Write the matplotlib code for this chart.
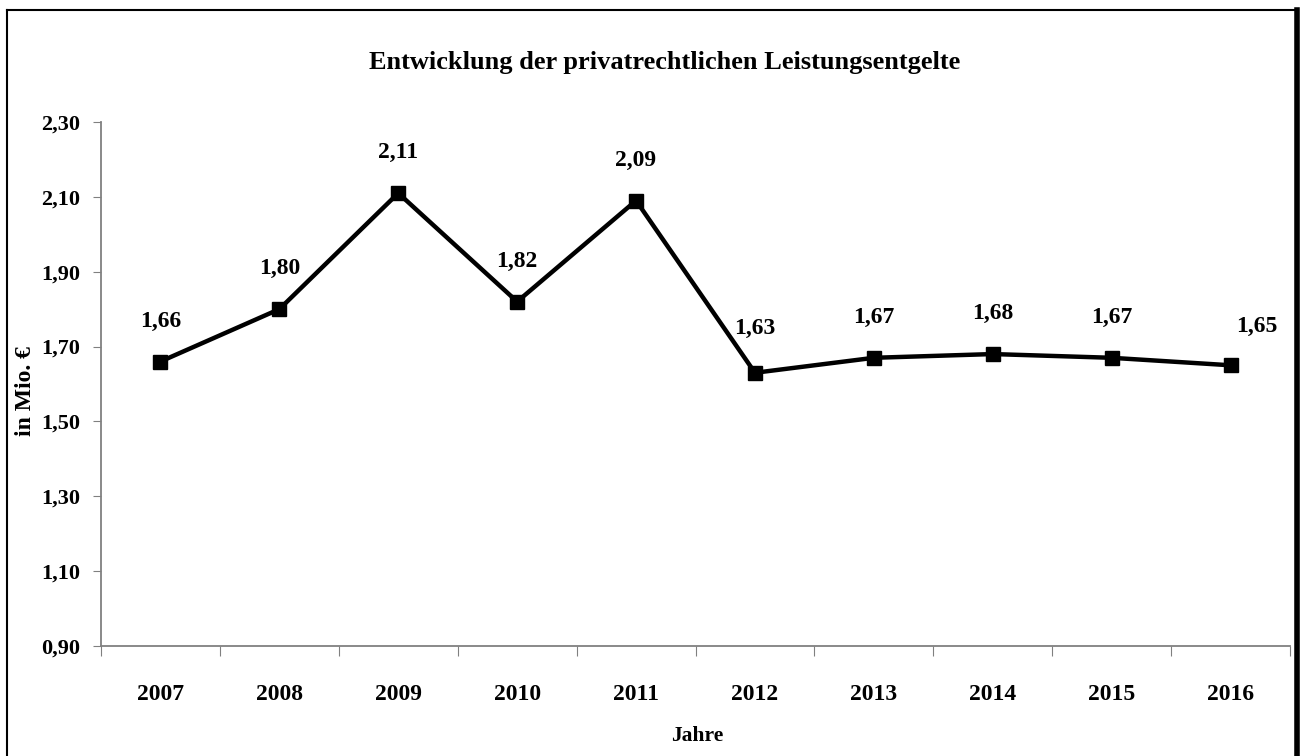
import matplotlib.pyplot as plt
from matplotlib.lines import Line2D

years = ['2007', '2008', '2009', '2010', '2011', '2012', '2013', '2014', '2015', '2016']
values = [1.66, 1.80, 2.11, 1.82, 2.09, 1.63, 1.67, 1.68, 1.67, 1.65]
yticks = [0.90, 1.10, 1.30, 1.50, 1.70, 1.90, 2.10, 2.30]

# label offsets in points (dx, dy)
offsets = [(0, 29)] * 10
offsets[5] = (0, 32)
offsets[9] = (19, 28)

plt.rcParams['font.family'] = ['Liberation Serif', 'DejaVu Serif']
plt.rcParams['font.weight'] = 'bold'

fig = plt.figure(figsize=(13.03, 7.56), dpi=100)
fig.set_facecolor('white')
ax = fig.add_axes([101 / 1303, 1 - 646 / 756, 1189 / 1303, 524 / 756])

x = [i + 0.5 for i in range(len(years))]
ax.plot(x, values, color='black', lw=3.2, marker='s', ms=10.5, solid_joinstyle='miter')

for xi, v, (dx, dy) in zip(x, values, offsets):
    ax.annotate('{:.2f}'.format(v).replace('.', ','), (xi, v), xytext=(dx, dy),
                textcoords='offset points', ha='center', va='center',
                fontsize=17, fontweight='bold')

ax.set_xlim(0, len(years))
ax.set_ylim(0.9, 2.3)
ax.set_yticks(yticks)
ax.set_yticklabels(['{:.2f}'.format(t).replace('.', ',') for t in yticks], fontsize=16, fontweight='bold')
ax.set_xticks(range(len(years) + 1))
ax.set_xticklabels([''] * (len(years) + 1))
ax.set_xticks(x, minor=True)
ax.set_xticklabels(years, minor=True, fontsize=17, fontweight='bold')
ax.tick_params(axis='x', which='minor', length=0, pad=27)
ax.tick_params(axis='x', which='major', length=7, color='#808080', direction='out')
ax.tick_params(axis='y', length=6, color='#808080', direction='out', pad=9)

for s in ['top', 'right']:
    ax.spines[s].set_visible(False)
for s in ['left', 'bottom']:
    ax.spines[s].set_color('#808080')
    ax.spines[s].set_linewidth(1.3)

fig.text(665 / 1303, 1 - 62 / 756, 'Entwicklung der privatrechtlichen Leistungsentgelte',
         ha='center', va='center', fontsize=19, fontweight='bold')
fig.text(697 / 1303, 1 - 736 / 756, 'Jahre', ha='center', va='center', fontsize=15.5, fontweight='bold')
fig.text(26 / 1303, 1 - 391 / 756, 'in Mio. €', ha='center', va='center', rotation=90,
         fontsize=17, fontweight='bold')

# outer frame
fig.add_artist(Line2D([7 / 1303, 7 / 1303], [0, 1 - 10 / 756], transform=fig.transFigure, color='black', lw=1.5))
fig.add_artist(Line2D([7 / 1303, 1297 / 1303], [1 - 10 / 756, 1 - 10 / 756], transform=fig.transFigure, color='black', lw=1.5))
fig.add_artist(Line2D([1297 / 1303, 1297 / 1303], [0, 1 - 10 / 756], transform=fig.transFigure, color='black', lw=4))

fig.savefig('out.png', dpi=100)
